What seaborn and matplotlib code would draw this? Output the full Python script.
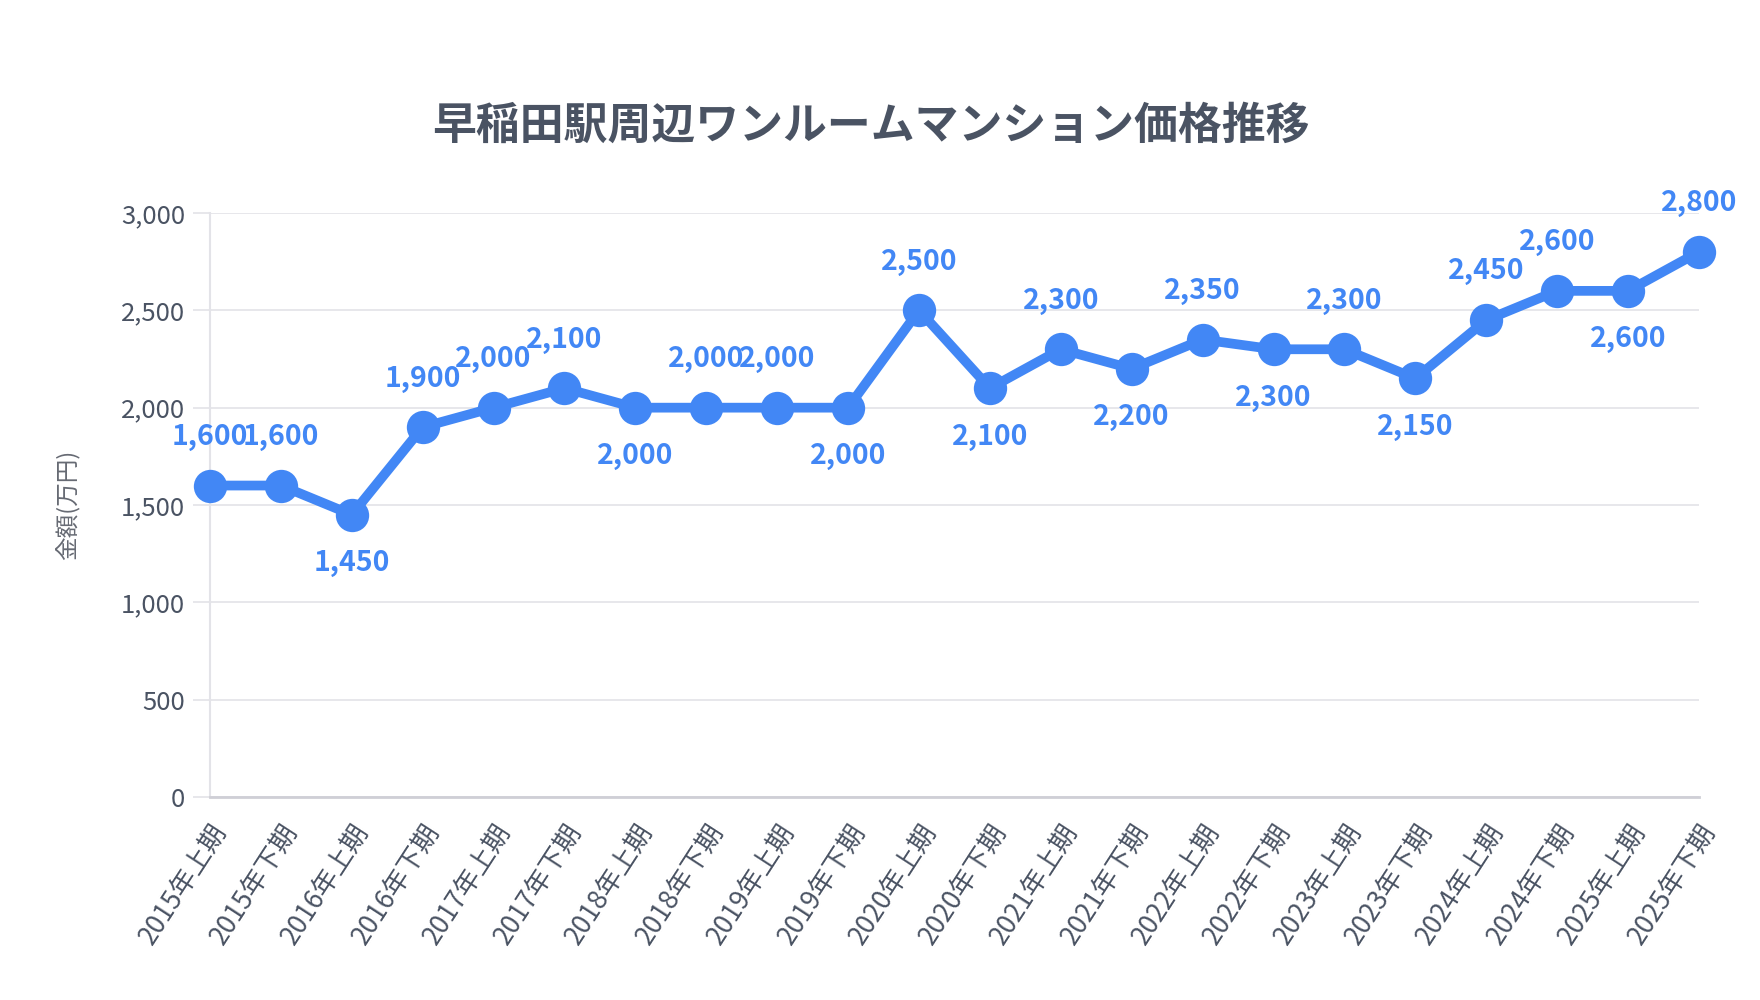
import matplotlib
matplotlib.use("Agg")
import matplotlib.pyplot as plt
import seaborn as sns
import pandas as pd

periods = ["2015年上期", "2015年下期", "2016年上期", "2016年下期", "2017年上期", "2017年下期",
           "2018年上期", "2018年下期", "2019年上期", "2019年下期", "2020年上期", "2020年下期",
           "2021年上期", "2021年下期", "2022年上期", "2022年下期", "2023年上期", "2023年下期",
           "2024年上期", "2024年下期", "2025年上期", "2025年下期"]
prices = [1600, 1600, 1450, 1900, 2000, 2100, 2000, 2000, 2000, 2000, 2500, 2100,
          2300, 2200, 2350, 2300, 2300, 2150, 2450, 2600, 2600, 2800]
label_side = [1, 1, -1, 1, 1, 1, -1, 1, 1, -1, 1, -1, 1, -1, 1, -1, 1, -1, 1, 1, -1, 1]
y_ticks = [0, 500, 1000, 1500, 2000, 2500, 3000]

title = "早稲田駅周辺ワンルームマンション価格推移"
y_label = "金額(万円)"

sns.set_theme(style="white")
plt.rcParams['font.family'] = ['Noto Sans CJK JP', 'DejaVu Sans']

BLUE = "#4287f5"
TEXT = "#4a5363"
GRID = "#e3e3e8"

df = pd.DataFrame({"period": periods, "price": prices, "x": range(len(periods))})

fig = plt.figure(figsize=(17.6, 10), dpi=100)
ax = fig.add_axes([0.1193, 0.203, 0.8460, 0.584])

sns.lineplot(data=df, x="x", y="price", ax=ax, color=BLUE, linewidth=7,
             marker="o", markersize=24, markeredgewidth=0, clip_on=False, zorder=5)

for xi, (v, s) in enumerate(zip(prices, label_side)):
    ax.annotate(f"{v:,}", (xi, v), xytext=(0, 35 * s), textcoords="offset points",
                ha="center", va="center", fontsize=20.5, fontweight="bold", color=BLUE,
                zorder=6, annotation_clip=False)

ax.set_xlim(0, len(periods) - 1)
ax.set_ylim(0, 3000)
ax.set_yticks(y_ticks)
ax.set_yticklabels([f"{t:,}" for t in y_ticks], fontsize=18.5, color=TEXT)
ax.set_xticks(range(len(periods)))
ax.set_xticklabels(periods, rotation=57, ha="right", rotation_mode="anchor",
                   fontsize=19, color=TEXT)
ax.tick_params(axis="y", length=12, width=1.2, color=GRID, pad=6, left=True)
ax.tick_params(axis="x", length=0, pad=16)

ax.grid(axis="y", color=GRID, linewidth=1.2)
ax.grid(axis="x", visible=False)
for sp in ["top", "right"]:
    ax.spines[sp].set_visible(False)
ax.spines["left"].set_color(GRID)
ax.spines["left"].set_linewidth(1.5)
ax.spines["bottom"].set_color("#cfcfd6")
ax.spines["bottom"].set_linewidth(2)

ax.set_xlabel("")
ax.set_ylabel(y_label, fontsize=17, color="#666a73", labelpad=30)

fig.text(0.495, 0.874, title, ha="center", va="center", fontsize=31.6,
         fontweight="bold", color=TEXT)

fig.savefig("out.png", dpi=100, facecolor="white")
